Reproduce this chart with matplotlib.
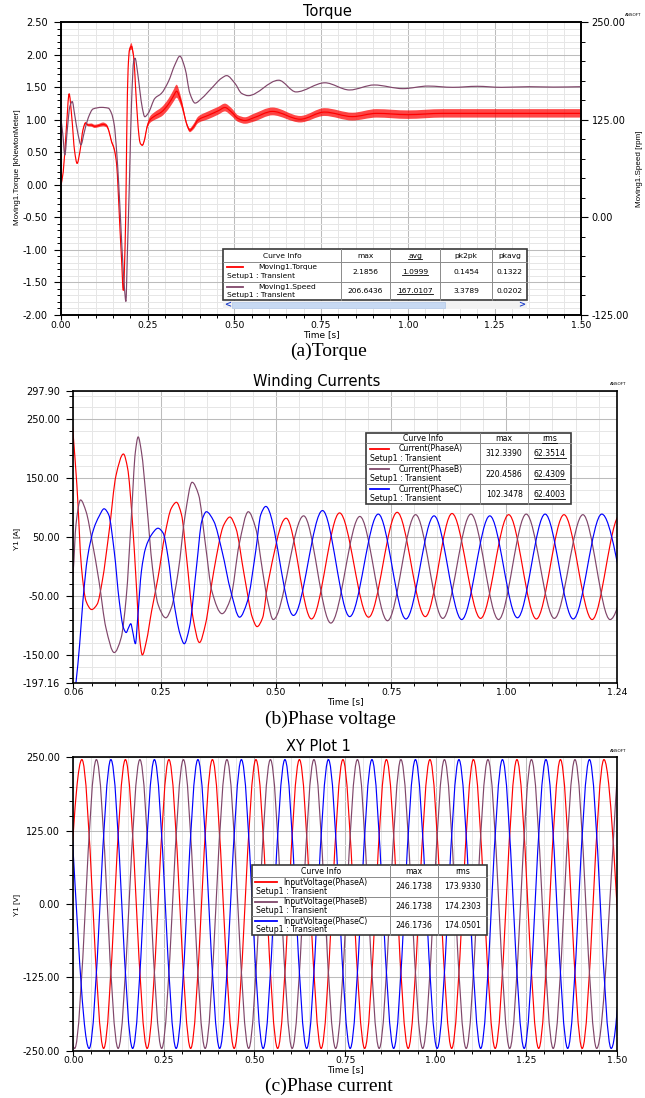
"""Motor transient results: torque/speed, winding currents and input voltages."""
import matplotlib

matplotlib.use("Agg")
import matplotlib.pyplot as plt
import numpy as np
from matplotlib.path import Path
from matplotlib.patches import PathPatch, Rectangle
from matplotlib.ticker import FixedLocator, FormatStrFormatter, MultipleLocator

W, H = 645, 1098
RED, PURPLE, BLUE = "#ff0000", "#80466a", "#0000ff"
SANS = "DejaVu Sans"
NARROW = "Liberation Sans"
SERIF = "Liberation Serif"

plt.rcParams["font.family"] = SANS

# ---------------------------------------------------------------------
# Torque [kNm] and speed [rpm] vs time [s]
# ---------------------------------------------------------------------
TORQUE_T = [0.000, 0.007, 0.016, 0.024, 0.031, 0.040, 0.047, 0.055, 0.064, 0.071,
            0.079, 0.088, 0.098, 0.108, 0.122, 0.132, 0.138, 0.146, 0.154, 0.161,
            0.165, 0.170, 0.175, 0.180, 0.187, 0.190, 0.194, 0.198, 0.204, 0.208,
            0.2115, 0.215, 0.221, 0.225, 0.229, 0.235, 0.242, 0.248, 0.257, 0.271,
            0.290, 0.310, 0.324, 0.334, 0.343, 0.353, 0.3625, 0.372, 0.382, 0.396,
            0.425, 0.454, 0.473, 0.492, 0.511, 0.531, 0.555, 0.610, 0.690, 0.760,
            0.840, 0.910, 1.000, 1.100, 1.200, 1.300, 1.400, 1.500]
TORQUE = [-0.02, 0.20, 0.87, 1.40, 1.08, 0.51, 0.33, 0.51, 0.85, 0.95,
          0.92, 0.92, 0.90, 0.91, 0.93, 0.91, 0.84, 0.67, 0.55, 0.31,
          -0.05, -0.62, -1.13, -1.62, -0.51, 0.77, 1.79, 2.08, 2.13, 2.04,
          1.88, 1.54, 1.03, 0.77, 0.64, 0.61, 0.71, 0.88, 1.00, 1.06,
          1.12, 1.24, 1.36, 1.44, 1.34, 1.15, 0.94, 0.84, 0.89, 1.00,
          1.07, 1.14, 1.19, 1.12, 1.02, 0.99, 1.03, 1.13, 1.01, 1.12,
          1.05, 1.10, 1.08, 1.10, 1.10, 1.10, 1.10, 1.10]
# half-width of the switching ripple riding on the torque
TORQUE_RIPPLE = [0.0, 0.0, 0.0, 0.01, 0.0, 0.0, 0.0, 0.0, 0.01, 0.02,
                 0.02, 0.025, 0.025, 0.025, 0.03, 0.025, 0.02, 0.02, 0.02, 0.0,
                 0.0, 0.0, 0.0, 0.0, 0.0, 0.0, 0.0, 0.03, 0.05, 0.04,
                 0.02, 0.0, 0.0, 0.0, 0.0, 0.01, 0.02, 0.03, 0.05, 0.06,
                 0.07, 0.08, 0.09, 0.10, 0.08, 0.05, 0.03, 0.03, 0.04, 0.05,
                 0.06, 0.06, 0.06, 0.06, 0.05, 0.05, 0.06, 0.06, 0.05, 0.06,
                 0.06, 0.065, 0.065, 0.065, 0.065, 0.065, 0.065, 0.065]

SPEED_T = [0.000, 0.006, 0.0115, 0.019, 0.026, 0.033, 0.040, 0.050, 0.058, 0.067,
           0.079, 0.093, 0.117, 0.137, 0.146, 0.154, 0.161, 0.167, 0.173, 0.179,
           0.185, 0.1875, 0.192, 0.198, 0.204, 0.210, 0.214, 0.221, 0.228, 0.235,
           0.242, 0.252, 0.271, 0.290, 0.310, 0.329, 0.343, 0.358, 0.372, 0.387,
           0.406, 0.435, 0.463, 0.478, 0.502, 0.521, 0.540, 0.628, 0.678, 0.761,
           0.832, 0.903, 0.986, 1.058, 1.130, 1.200, 1.270, 1.350, 1.420, 1.500]
SPEED = [127.5, 105.8, 80.0, 114.0, 142.0, 148.5, 131.5, 105.8, 93.0, 108.0,
         127.5, 139.0, 141.0, 140.0, 133.5, 118.5, 84.0, 41.7, -10.0, -60.8,
         -99.0, -107.5, -44.0, 50.0, 148.5, 200.0, 204.0, 186.7, 161.7, 140.0,
         129.0, 133.5, 152.5, 159.0, 174.0, 195.8, 206.6, 191.0, 159.0, 146.5,
         152.5, 165.8, 178.3, 181.7, 171.7, 159.0, 156.0, 175.8, 160.8, 172.5,
         163.3, 169.7, 165.0, 168.3, 166.7, 168.0, 166.7, 167.5, 167.0, 167.5]

# ---------------------------------------------------------------------
# Winding currents [A] vs time [s]
# ---------------------------------------------------------------------
IA_T = [0.052, 0.060, 0.068, 0.078, 0.088, 0.100, 0.112, 0.123, 0.138, 0.153,
        0.169, 0.178, 0.188, 0.197, 0.204, 0.210, 0.219, 0.230, 0.244, 0.259,
        0.273, 0.284, 0.295, 0.306, 0.320, 0.334, 0.347, 0.365, 0.387, 0.400,
        0.413, 0.431, 0.449, 0.459, 0.471, 0.482, 0.522, 0.577, 0.638, 0.701,
        0.763, 0.824, 0.882, 0.944, 1.005, 1.065, 1.125, 1.186, 1.246, 1.306]
IA = [305.0, 223.0, 138.0, -2.0, -59.0, -73.0, -64.0, -25.0, 60.0, 155.0,
      191.0, 167.0, 82.0, -31.0, -121.0, -150.0, -126.0, -76.0, -19.0, 54.0,
      99.0, 109.0, 88.0, 15.0, -87.0, -129.0, -98.0, -8.0, 71.0, 84.0,
      65.0, -14.0, -87.0, -102.0, -87.0, -31.0, 82.0, -89.0, 91.0, -86.0,
      92.0, -85.0, 90.0, -88.0, 88.0, -89.0, 88.0, -90.0, 87.0, -88.0]

IB_T = [0.052, 0.060, 0.066, 0.076, 0.088, 0.101, 0.116, 0.131, 0.149, 0.164,
        0.175, 0.186, 0.195, 0.201, 0.208, 0.219, 0.232, 0.244, 0.261, 0.273,
        0.288, 0.303, 0.318, 0.332, 0.347, 0.361, 0.383, 0.402, 0.420, 0.440,
        0.456, 0.471, 0.482, 0.494, 0.560, 0.619, 0.682, 0.742, 0.803, 0.862,
        0.923, 0.983, 1.043, 1.104, 1.166, 1.225, 1.286]
IB = [-60.0, -8.0, 71.0, 113.0, 93.0, 43.0, -25.0, -104.0, -146.0, -121.0,
      -53.0, 82.0, 195.0, 220.0, 195.0, 110.0, -2.0, -64.0, -87.0, -70.0,
      -8.0, 88.0, 143.0, 122.0, 37.0, -42.0, -80.0, -53.0, 37.0, 93.0,
      65.0, -8.0, -59.0, -90.0, 86.0, -96.0, 85.0, -92.0, 88.0, -88.0,
      89.0, -90.0, 89.0, -88.0, 88.0, -90.0, 88.0]

IC_T = [0.056, 0.066, 0.074, 0.081, 0.091, 0.105, 0.116, 0.127, 0.137, 0.149,
        0.160, 0.169, 0.175, 0.180, 0.185, 0.189, 0.195, 0.200, 0.208, 0.217,
        0.230, 0.244, 0.255, 0.266, 0.277, 0.292, 0.301, 0.312, 0.328, 0.339,
        0.349, 0.365, 0.383, 0.402, 0.421, 0.438, 0.456, 0.467, 0.478, 0.538,
        0.601, 0.660, 0.722, 0.782, 0.843, 0.903, 0.964, 1.024, 1.084, 1.145,
        1.207, 1.266]
IC = [-260.0, -197.0, -132.0, -59.0, 15.0, 65.0, 85.0, 98.0, 88.0, 26.0,
      -59.0, -104.0, -112.0, -104.0, -97.0, -110.0, -131.0, -87.0, -8.0, 31.0,
      54.0, 65.0, 57.0, 15.0, -53.0, -115.0, -131.0, -104.0, 3.0, 77.0,
      93.0, 77.0, 26.0, -42.0, -86.0, -59.0, 26.0, 88.0, 102.0, -83.0,
      95.0, -85.0, 89.0, -89.0, 86.0, -90.0, 86.0, -87.0, 89.0, -89.0,
      89.0, -88.0]

# ---------------------------------------------------------------------
# Input phase voltages [V]: peak / trough instants [s]
# ---------------------------------------------------------------------
VA_T = [-0.036, 0.024, 0.084, 0.144, 0.204, 0.264, 0.324, 0.384, 0.444, 0.504,
        0.564, 0.624, 0.684, 0.744, 0.804, 0.864, 0.924, 0.984, 1.044, 1.104,
        1.164, 1.224, 1.284, 1.344, 1.404, 1.464, 1.524]
VA = [-246.2, 246.2, -246.2, 246.2, -246.2, 246.2, -246.2, 246.2, -246.2, 246.2,
      -246.2, 246.2, -246.2, 246.2, -246.2, 246.2, -246.2, 246.2, -246.2, 246.2,
      -246.2, 246.2, -246.2, 246.2, -246.2, 246.2, -246.2]
VB_T = [-0.056, 0.004, 0.064, 0.124, 0.184, 0.244, 0.304, 0.364, 0.424, 0.484,
        0.544, 0.604, 0.664, 0.724, 0.784, 0.844, 0.904, 0.964, 1.024, 1.084,
        1.144, 1.204, 1.264, 1.324, 1.384, 1.444, 1.504]
VB = [246.2, -246.2, 246.2, -246.2, 246.2, -246.2, 246.2, -246.2, 246.2, -246.2,
      246.2, -246.2, 246.2, -246.2, 246.2, -246.2, 246.2, -246.2, 246.2, -246.2,
      246.2, -246.2, 246.2, -246.2, 246.2, -246.2, 246.2]
VC_T = [-0.016, 0.044, 0.104, 0.164, 0.224, 0.284, 0.344, 0.404, 0.464, 0.524,
        0.584, 0.644, 0.704, 0.764, 0.824, 0.884, 0.944, 1.004, 1.064, 1.124,
        1.184, 1.244, 1.304, 1.364, 1.424, 1.484, 1.544]
VC = [246.2, -246.2, 246.2, -246.2, 246.2, -246.2, 246.2, -246.2, 246.2, -246.2,
      246.2, -246.2, 246.2, -246.2, 246.2, -246.2, 246.2, -246.2, 246.2, -246.2,
      246.2, -246.2, 246.2, -246.2, 246.2, -246.2, 246.2]

# curve-info tables
TORQUE_HEADER = ["Curve Info", "max", "avg", "pk2pk", "pkavg"]
TORQUE_ROWS = [("Moving1.Torque", "2.1856", "1.0999", "0.1454", "0.1322"),
               ("Moving1.Speed", "206.6436", "167.0107", "3.3789", "0.0202")]
CURRENT_HEADER = ["Curve Info", "max", "rms"]
CURRENT_ROWS = [("Current(PhaseA)", "312.3390", "62.3514"),
                ("Current(PhaseB)", "220.4586", "62.4309"),
                ("Current(PhaseC)", "102.3478", "62.4003")]
VOLTAGE_HEADER = ["Curve Info", "max", "rms"]
VOLTAGE_ROWS = [("InputVoltage(PhaseA)", "246.1738", "173.9330"),
                ("InputVoltage(PhaseB)", "246.1738", "174.2303"),
                ("InputVoltage(PhaseC)", "246.1736", "174.0501")]


fig = plt.figure(figsize=(W / 100, H / 100), dpi=100)
fig.patch.set_facecolor("white")


def px_axes(left, top, right, bottom):
    return fig.add_axes([left / W, 1 - bottom / H, (right - left) / W, (bottom - top) / H])


def ftext(x, y, s, **kw):
    kw.setdefault("ha", "center")
    kw.setdefault("va", "center")
    return fig.text(x / W, 1 - y / H, s, **kw)


def pchip_slopes(x, y):
    h = np.diff(x)
    d = np.diff(y) / h
    m = np.zeros_like(y)
    for i in range(1, len(y) - 1):
        if d[i - 1] * d[i] > 0:
            w1 = 2 * h[i] + h[i - 1]
            w2 = h[i] + 2 * h[i - 1]
            m[i] = (w1 + w2) / (w1 / d[i - 1] + w2 / d[i])
    m[0], m[-1] = d[0], d[-1]
    return m


def bezier_verts(x, y):
    """Cubic Hermite segments through the knots as Bezier control points."""
    x = np.asarray(x, float)
    y = np.asarray(y, float)
    m = pchip_slopes(x, y)
    verts = [(x[0], y[0])]
    for i in range(len(x) - 1):
        h = (x[i + 1] - x[i]) / 3
        verts += [(x[i] + h, y[i] + m[i] * h),
                  (x[i + 1] - h, y[i + 1] - m[i + 1] * h),
                  (x[i + 1], y[i + 1])]
    return np.array(verts)


def curve(ax, x, y, color, lw=0.85):
    v = bezier_verts(x, y)
    codes = [Path.MOVETO] + [Path.CURVE4] * (len(v) - 1)
    ax.add_patch(PathPatch(Path(v, codes), fill=False, edgecolor=color, lw=lw,
                           joinstyle="round", capstyle="round", zorder=2))


def band(ax, x, y, hw, color, alpha):
    up = bezier_verts(x, np.add(y, hw))
    lo = bezier_verts(x, np.subtract(y, hw))[::-1]
    n = len(up)
    v = np.vstack([up, lo, up[:1]])
    codes = ([Path.MOVETO] + [Path.CURVE4] * (n - 1) + [Path.LINETO]
             + [Path.CURVE4] * (n - 1) + [Path.CLOSEPOLY])
    ax.add_patch(PathPatch(Path(v, codes), facecolor=color, edgecolor="none",
                           alpha=alpha, zorder=2))


def style_axes(ax):
    ax.set_facecolor("white")
    ax.set_axisbelow(True)
    for sp in ax.spines.values():
        sp.set_linewidth(1.2)
        sp.set_color("black")
    ax.grid(which="major", color="#bcbcbc", lw=0.75)
    ax.grid(which="minor", color="#e6e6e6", lw=0.7)
    ax.tick_params(axis="y", which="major", direction="out", length=5, width=0.8,
                   pad=4.5, labelsize=7)
    ax.tick_params(axis="y", which="minor", direction="out", length=2.8, width=0.7)
    ax.tick_params(axis="x", which="major", direction="out", length=3.3, width=0.8,
                   pad=0.8, labelsize=6.7)
    ax.tick_params(axis="x", which="minor", direction="out", length=2, width=0.7)
    ax.xaxis.set_major_formatter(FormatStrFormatter("%.2f"))
    ax.yaxis.set_major_formatter(FormatStrFormatter("%.2f"))


def curve_table(x0, y0, x1, y1, cols, rows, header, entries, colors,
                sample=(4, 23), name_dx=33, underline=(), fs=5.6):
    tax = px_axes(x0 - 2, y0 - 2, x1 + 2, y1 + 12)
    tax.set_xlim(x0 - 2, x1 + 2)
    tax.set_ylim(y1 + 12, y0 - 2)
    tax.axis("off")
    tax.add_patch(Rectangle((x0, y0), x1 - x0, y1 - y0, facecolor="white",
                            edgecolor="#3a3a3a", lw=1.2, zorder=1))
    for c in cols:
        tax.plot([c, c], [y0, y1], color="#8a8a8a", lw=0.7, zorder=2)
    for r in rows:
        tax.plot([x0, x1], [r, r], color="#8a8a8a", lw=0.7, zorder=2)
    xs = [x0] + list(cols) + [x1]
    ys = [y0] + list(rows) + [y1]
    lines = []
    for j, label in enumerate(header):
        t = tax.text((xs[j] + xs[j + 1]) / 2, (ys[0] + ys[1]) / 2 + 0.3, label,
                     ha="center", va="center", fontsize=fs, zorder=3)
        if j in underline:
            lines.append(t)
    for i, (entry, color) in enumerate(zip(entries, colors)):
        top, bot = ys[i + 1], ys[i + 2]
        h = bot - top
        tax.plot([x0 + sample[0], x0 + sample[1]], [top + 0.27 * h] * 2,
                 color=color, lw=1.3, zorder=3)
        tax.text(x0 + name_dx, top + 0.27 * h, entry[0], ha="left", va="center",
                 fontsize=fs, zorder=3)
        tax.text(x0 + 4, top + 0.72 * h, "Setup1 : Transient", ha="left",
                 va="center", fontsize=fs, zorder=3)
        for j, val in enumerate(entry[1:], start=1):
            t = tax.text((xs[j] + xs[j + 1]) / 2, top + 0.5 * h, val, ha="center",
                         va="center", fontsize=fs, zorder=3)
            if j in underline:
                lines.append(t)
    renderer = fig.canvas.get_renderer()
    for t in lines:
        bb = t.get_window_extent(renderer=renderer)
        yy = H - bb.y0 + 0.3
        tax.plot([bb.x0, bb.x1], [yy, yy], color="black", lw=0.6, zorder=3)
    return tax


# ---------------------------------------------------------------------
# (a) Torque and speed
# ---------------------------------------------------------------------
ax_t = px_axes(60.8, 22.3, 581.3, 315)
style_axes(ax_t)
ax_t.set_xlim(0, 1.5)
ax_t.set_ylim(-2.0, 2.5)
ax_t.xaxis.set_major_locator(MultipleLocator(0.25))
ax_t.xaxis.set_minor_locator(MultipleLocator(0.05))
ax_t.yaxis.set_major_locator(MultipleLocator(0.5))
ax_t.yaxis.set_minor_locator(MultipleLocator(0.1))
band(ax_t, TORQUE_T, TORQUE, TORQUE_RIPPLE, RED, 0.72)
curve(ax_t, TORQUE_T, TORQUE, RED)

ax_s = ax_t.twinx()
ax_s.set_ylim(-125, 250)
ax_s.yaxis.set_major_locator(MultipleLocator(125))
ax_s.yaxis.set_minor_locator(MultipleLocator(25))
ax_s.yaxis.set_major_formatter(FormatStrFormatter("%.2f"))
ax_s.tick_params(axis="y", which="major", direction="out", length=5, width=0.8,
                 pad=2.5, labelsize=7)
ax_s.tick_params(axis="y", which="minor", direction="out", length=2.8, width=0.7)
for sp in ax_s.spines.values():
    sp.set_linewidth(1.2)
curve(ax_s, SPEED_T, SPEED, PURPLE)

ftext(327, 11.7, "Torque", fontsize=10.5)
ftext(633, 15, "ANSOFT", fontsize=3)
ftext(321.5, 334.5, "Time [s]", fontsize=6.5)
ftext(17.3, 167.5, "Moving1.Torque [kNewtonMeter]", rotation=90, fontsize=5.8,
      family=NARROW)
ftext(639.5, 168.5, "Moving1.Speed [rpm]", rotation=90, fontsize=5.8, family=NARROW)
ftext(329, 351, "(a)Torque", fontsize=14, family=SERIF)

tax = curve_table(223, 249, 527, 300, [341, 390, 440, 492], [262, 282],
                  TORQUE_HEADER, TORQUE_ROWS, [RED, PURPLE], sample=(4, 20),
                  name_dx=35, underline=(2,), fs=5.4)
# scroll bar under the table
tax.add_patch(Rectangle((223, 301), 304, 7.5, facecolor="#f2f2f2", edgecolor="none"))
tax.add_patch(Rectangle((232, 301.5), 213, 6.5, facecolor="#c7d9f2",
                        edgecolor="#b0c6e6", lw=0.5))
tax.text(227.5, 304.8, "<", ha="center", va="center", fontsize=6,
         fontweight="bold", color="#1a3cc8")
tax.text(521.5, 304.8, ">", ha="center", va="center", fontsize=6,
         fontweight="bold", color="#1a3cc8")

# ---------------------------------------------------------------------
# (b) Winding currents
# ---------------------------------------------------------------------
ax_i = px_axes(73.2, 391, 617, 682.7)
style_axes(ax_i)
ax_i.set_xlim(0.06, 1.24)
ax_i.set_ylim(-197.16, 297.90)
ax_i.xaxis.set_major_locator(FixedLocator([0.06, 0.25, 0.50, 0.75, 1.00, 1.24]))
ax_i.xaxis.set_minor_locator(MultipleLocator(0.05))
ax_i.yaxis.set_major_locator(FixedLocator([-197.16, -150, -50, 50, 150, 250, 297.90]))
ax_i.yaxis.set_minor_locator(MultipleLocator(20, offset=10))
curve(ax_i, IA_T, IA, RED)
curve(ax_i, IB_T, IB, PURPLE)
curve(ax_i, IC_T, IC, BLUE)

ftext(317, 381, "Winding Currents", fontsize=10.5)
ftext(618, 384, "ANSOFT", fontsize=3)
ftext(345, 702, "Time [s]", fontsize=6.5)
ftext(17.3, 539, "Y1 [A]", rotation=90, fontsize=5.8, family=NARROW)
ftext(330, 719, "(b)Phase voltage", fontsize=14, family=SERIF)
curve_table(366, 432.7, 570.7, 504, [480, 528.3], [443.3, 464, 484],
            CURRENT_HEADER, CURRENT_ROWS, [RED, PURPLE, BLUE], underline=(2,))

# ---------------------------------------------------------------------
# (c) Input voltages
# ---------------------------------------------------------------------
ax_v = px_axes(73.2, 757.3, 617, 1050.7)
style_axes(ax_v)
ax_v.set_xlim(0, 1.5)
ax_v.set_ylim(-250, 250)
ax_v.xaxis.set_major_locator(MultipleLocator(0.25))
ax_v.xaxis.set_minor_locator(MultipleLocator(0.05))
ax_v.yaxis.set_major_locator(MultipleLocator(125))
ax_v.yaxis.set_minor_locator(MultipleLocator(25))
curve(ax_v, VA_T, VA, RED)
curve(ax_v, VB_T, VB, PURPLE)
curve(ax_v, VC_T, VC, BLUE)

ftext(318, 746.7, "XY Plot 1", fontsize=10.5)
ftext(618, 750.7, "ANSOFT", fontsize=3)
ftext(345.5, 1069.5, "Time [s]", fontsize=6.5)
ftext(17.3, 905, "Y1 [V]", rotation=90, fontsize=5.8, family=NARROW)
ftext(329, 1086, "(c)Phase current", fontsize=14, family=SERIF)
curve_table(251.7, 865, 486.7, 935, [390, 438.3], [876.7, 896.7, 916],
            VOLTAGE_HEADER, VOLTAGE_ROWS, [RED, PURPLE, BLUE], sample=(3, 25),
            name_dx=32)

fig.savefig("out.png", dpi=100, facecolor="white")
